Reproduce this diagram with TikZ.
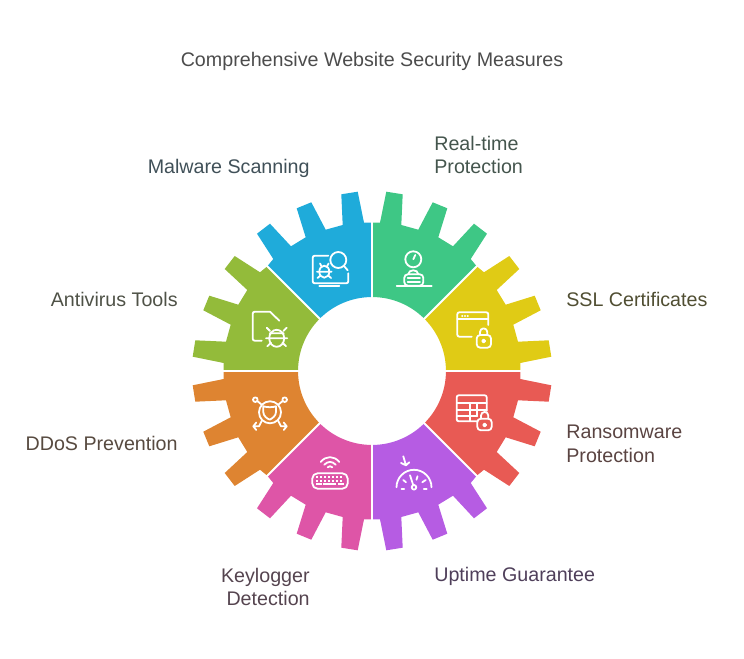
\documentclass[tikz,border=0pt]{standalone}
\usepackage{fontspec}
\setmainfont{Liberation Sans}
\definecolor{blueseg}{HTML}{1FABDA}
\definecolor{greenseg}{HTML}{3EC785}
\definecolor{yellowseg}{HTML}{E0CB15}
\definecolor{redseg}{HTML}{E85A54}
\definecolor{purpleseg}{HTML}{B65CE3}
\definecolor{pinkseg}{HTML}{DE55A7}
\definecolor{orangeseg}{HTML}{DE8431}
\definecolor{oliveseg}{HTML}{93BB3A}
\tikzset{
  lab/.style={font=\fontsize{11.2}{13.6}\selectfont, inner sep=0pt, align=left},
  icon/.style={draw=white, line width=0.036cm, line cap=round, line join=round},
}
% one gear segment, from the vertical axis towards 135 degrees
\newcommand{\gearseg}[2]{%
  \fill [#1, #2] (0,148.3) -- (-8,148.3) -- (-14.3,179.3) -- (-30.7,176.7) -- (-29.3,146) -- (-46.3,141.3) -- (-60.7,168.7) -- (-75.3,162.7) -- (-66.3,133.7) -- (-81,124.7) -- (-102,147.3) -- (-115,137.3) -- (-98.7,112) -- (-104.7,104.7) -- (-52.3,52.3) arc (135:90:74) -- cycle;%
}
\begin{document}
\begin{tikzpicture}[x=0.02cm,y=0.02cm]
  \useasboundingbox (-372,-288) rectangle (372,371);

  % Drawing the eight segments
  \gearseg{blueseg}{}
  \gearseg{greenseg}{xscale=-1}
  \gearseg{yellowseg}{rotate=-90}
  \gearseg{redseg}{rotate=-90,xscale=-1}
  \gearseg{purpleseg}{rotate=180}
  \gearseg{pinkseg}{rotate=180,xscale=-1}
  \gearseg{orangeseg}{rotate=90}
  \gearseg{oliveseg}{rotate=90,xscale=-1}

  % Drawing the white gaps
  \foreach \a in {0,45,...,315}
    \draw [white, line width=0.04cm] (\a:70) -- (\a:152);

  % Malware icon
  \draw [icon] (-43.7,115.3) -- (-57.3,115.3) arc (90:180:2) -- (-59.3,89.7) arc (180:270:2) -- (-25.7,87.7) arc (-90:0:2) -- (-23.7,97.7);
  \draw [icon] (-52.7,84.8) -- (-32.7,84.8);
  \draw [icon] (-33.7,111) circle (8);
  \draw [icon] (-28,105) -- (-24.3,100.7);
  \draw [icon] (-47.7,99.3) ellipse (5 and 6);
  \draw [icon] (-55,99.3) -- (-40.4,99.3) (-54.5,93) -- (-51.5,95.5) (-40.9,93) -- (-43.9,95.5) (-52,107.5) -- (-50.3,104.5) (-43.4,107.5) -- (-45.1,104.5);

  % Antivirus icon
  \draw [icon] (-110.3,30.3) -- (-117.3,30.3) arc (270:180:2) -- (-119.3,57.3) arc (180:90:2) -- (-102,59.3) -- (-92.7,50.3);
  \draw [icon] (-95.3,32.7) ellipse (7.5 and 8.5);
  \draw [icon] (-102.3,37.7) -- (-88.3,37.7) (-106,32.7) -- (-84.7,32.7) (-105.3,43.3) -- (-102,40) (-85.3,43.3) -- (-88.6,40) (-104.7,24.7) -- (-101,28.3) (-85.9,24.7) -- (-89.6,28.3);

  % Realtime icon
  \draw [icon] (41.3,111.7) circle (8);
  \draw [icon] (41.3,111.7) -- (43.3,116);
  \draw [icon] (36.3,96.7) .. controls (36.3,102) and (46.3,102) .. (46.3,96.7);
  \draw [icon, rounded corners=2] (32.3,85.3) rectangle (51.3,96.7);
  \draw [icon] (35.7,92.7) -- (48,92.7) (35.7,89.3) -- (48,89.3);
  \draw [icon] (24.7,85) -- (59.7,85);

  % SSL icon
  \draw [icon] (99.7,34.3) -- (87.3,34.3) arc (270:180:2) -- (85.3,56.7) arc (180:90:2) -- (114.3,58.7) arc (90:0:2) -- (116.3,46);
  \draw [icon] (85.3,51.7) -- (116.3,51.7);
  \fill [white] (90.3,55) circle (1.1) (93,55) circle (1.1) (95.7,55) circle (1.1);
  \draw [icon, rounded corners=2] (104.7,23.3) rectangle (119,36);
  \draw [icon] (108,36) -- (108,39) arc (180:0:3.65) -- (115.3,36);
  \draw [icon] (111.7,30) circle (1.5);

  % Ransomware icon
  \draw [icon] (105.3,-50.3) -- (86.7,-50.3) arc (270:180:2) -- (84.7,-26.3) arc (180:90:2) -- (112.7,-24.3) arc (90:0:2) -- (114.7,-40);
  \draw [icon] (84.7,-32) -- (114.7,-32) (84.7,-38.7) -- (114.7,-38.7) (84.7,-45.3) -- (105.3,-45.3) (98,-32) -- (98,-50.3) (105.3,-32) -- (105.3,-45.3);
  \draw [icon, rounded corners=2] (105.3,-59.3) rectangle (119.7,-47.7);
  \draw [icon] (109,-47.7) -- (109,-44.6) arc (180:0:3.65) -- (116.3,-47.7);
  \draw [icon] (112.7,-54) circle (1.5);

  % Uptime icon
  \draw [icon] (24.5,-116.3) arc (180:0:17.5);
  \draw [icon] (38,-104.3) -- (41.3,-114.3);
  \draw [icon] (42,-116.3) circle (2.3);
  \draw [icon] (29.5,-118) -- (32.3,-118) (31.3,-109) -- (34,-111.3) (45.5,-105.3) -- (44.5,-108.7) (53.7,-109) -- (50.3,-111.3) (51.7,-118) -- (54.7,-118);
  \draw [icon] (31.3,-85.3) -- (34,-94.3) (29,-92) -- (34,-94.3) -- (37.3,-91.3);

  % Keylogger icon
  \draw [icon, rounded corners=3] (-59.7,-117.7) rectangle (-24.3,-102.3);
  \draw [icon] (-51.3,-91) .. controls (-46,-84.5) and (-38,-84.5) .. (-32.7,-91);
  \draw [icon] (-47.7,-93.7) .. controls (-44,-90) and (-40,-90) .. (-36.3,-93.7);
  \draw [icon] (-44.3,-96.3) -- (-42,-95.2) -- (-39.7,-96.3);
  \foreach \kx in {-54.7,-50.7,...,-29} {
    \fill [white] (\kx-1,-107.2) rectangle (\kx+1,-105.2);
    \fill [white] (\kx-1,-110.9) rectangle (\kx+1,-108.9);
  }
  \fill [white] (-55.7,-114.5) rectangle (-50,-112.5);
  \fill [white] (-48.5,-114.5) rectangle (-35.5,-112.5);
  \fill [white] (-34,-114.5) rectangle (-28.3,-112.5);

  % DDoS icon
  \draw [icon] (-102,-41.3) circle (11);
  \draw [icon] (-108.7,-35.3) .. controls (-105,-36.5) and (-99,-36.5) .. (-96,-35.3) -- (-96,-41) .. controls (-96,-45) and (-100,-47.5) .. (-102.3,-48.7) .. controls (-105,-47.5) and (-108.7,-45) .. (-108.7,-41) -- cycle;
  \draw [icon] (-116.7,-28.7) circle (2.3) (-87.3,-28.7) circle (2.3);
  \draw [icon] (-114.7,-30) -- (-110.5,-33.5) (-89.3,-30) -- (-93.5,-33.5);
  \draw [icon] (-110,-49.5) -- (-113,-55.3) -- (-118.7,-55.3) (-118.7,-55.3) -- (-115.7,-51.5) (-118.7,-55.3) -- (-115.7,-59);
  \draw [icon] (-94,-49.5) -- (-91,-55.3) -- (-85.3,-55.3) (-85.3,-55.3) -- (-88.3,-51.5) (-85.3,-55.3) -- (-88.3,-59);

  % Labels
  \node [lab, text=black!70] (title) at (0,309.5) {Comprehensive Website Security Measures};
  \node [lab, anchor=east, text={rgb,255:red,64;green,80;blue,88}] (malware) at (-62,202.5) {Malware Scanning};
  \node [lab, anchor=west, text={rgb,255:red,68;green,85;blue,77}] (realtime) at (62,216) {Real-time\\Protection};
  \node [lab, anchor=west, text={rgb,255:red,80;green,78;blue,50}] (ssl) at (194,72) {SSL Certificates};
  \node [lab, anchor=east, text={rgb,255:red,79;green,82;blue,71}] (antivirus) at (-194,72) {Antivirus Tools};
  \node [lab, anchor=east, text={rgb,255:red,87;green,74;blue,64}] (ddos) at (-194,-72) {DDoS Prevention};
  \node [lab, anchor=west, text={rgb,255:red,90;green,68;blue,66}] (ransomware) at (194,-72.5) {Ransomware\\Protection};
  \node [lab, anchor=east, align=right, text={rgb,255:red,85;green,68;blue,79}] (keylogger) at (-62,-216) {Keylogger\\Detection};
  \node [lab, anchor=west, text={rgb,255:red,79;green,63;blue,90}] (uptime) at (62,-205.5) {Uptime Guarantee};
\end{tikzpicture}
\end{document}
